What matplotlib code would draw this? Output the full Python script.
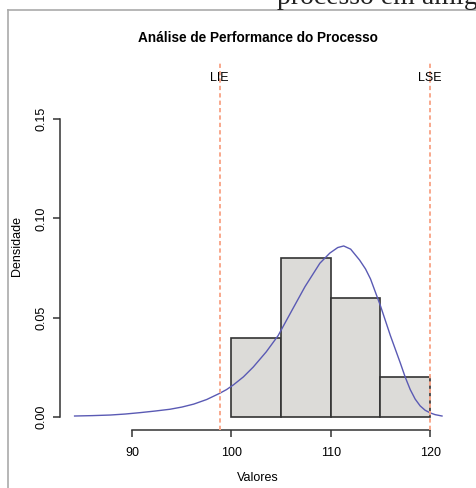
import matplotlib
matplotlib.use("Agg")
import matplotlib.pyplot as plt
from matplotlib.lines import Line2D

plt.rcParams['font.family'] = ['Liberation Sans', 'DejaVu Sans']

# histograma (densidade)
bin_left = [100, 105, 110, 115]
bin_dens = [0.04, 0.08, 0.06, 0.02]
bin_width = 5

# curva de densidade
curva_x = [84.2, 86.0, 87.8, 89.3, 90.8, 92.3, 93.8, 95.0, 96.2, 97.5, 98.8,
           99.5, 100.2, 101.2, 102.2, 103.5, 104.7, 106.1, 107.4, 108.9, 109.9,
           110.7, 111.3, 112.0, 112.9, 113.5, 114.0, 115.0, 116.0, 117.0,
           117.5, 118.0, 118.5, 119.0, 119.5, 120.0, 120.5, 121.2]
curva_y = [0.0005, 0.0007, 0.0010, 0.0015, 0.0022, 0.0030, 0.0039, 0.0050,
           0.0065, 0.0088, 0.0119, 0.0138, 0.0162, 0.0202, 0.0252, 0.0328,
           0.0410, 0.0538, 0.0656, 0.0774, 0.0825, 0.0853, 0.0861, 0.0845,
           0.0790, 0.0745, 0.0695, 0.0560, 0.0410, 0.0272, 0.0200, 0.0138,
           0.0090, 0.0056, 0.0034, 0.0021, 0.0012, 0.0005]

lie = 98.8
lse = 120.0
xticks = [90, 100, 110, 120]
yticks = [0.00, 0.05, 0.10, 0.15]

W, H = 477, 488
fig = plt.figure(figsize=(W / 100, H / 100), dpi=100)

# moldura da pagina e texto cortado no topo
fig.add_artist(Line2D([8 / W, 1], [1 - 10 / H, 1 - 10 / H], color='#aaaaaa', lw=1.2))
fig.add_artist(Line2D([8 / W, 8 / W], [0, 1 - 10 / H], color='#aaaaaa', lw=1.2))
fig.text(277 / W, 1 - 4.5 / H, 'processo em amiga', family='Liberation Serif',
         fontsize=20, ha='left', va='baseline', color='#222222')

ax = fig.add_axes([60 / W, (H - 430) / H, (457 - 60) / W, (430 - 62) / H])

ax.bar(bin_left, bin_dens, width=bin_width, align='edge', color='#dcdbd8',
       edgecolor='#333333', linewidth=1.2, zorder=2)
ax.plot(curva_x, curva_y, color='#5a5ab4', lw=1.0, zorder=3)

for v, lab in [(lie, 'LIE'), (lse, 'LSE')]:
    ax.axvline(v, color='#f8a88c', lw=1.4, linestyle=(0, (2.2, 1.6)), zorder=4)
    ax.text(v, 0.1706, lab, ha='center', va='center', fontsize=9, zorder=5)

ax.set_xlim(82.73, 122.71)
ax.set_ylim(-0.00654, 0.1787)

for s in ['top', 'right']:
    ax.spines[s].set_visible(False)
ax.spines['left'].set_bounds(0, 0.15)
ax.spines['bottom'].set_bounds(90, 120)
for s in ['left', 'bottom']:
    ax.spines[s].set_color('#333333')
    ax.spines[s].set_linewidth(1.1)

ax.set_xticks(xticks)
ax.set_xticklabels([str(t) for t in xticks])
ax.set_yticks(yticks)
ax.set_yticklabels(['%.2f' % t for t in yticks], rotation=90, va='center')
ax.tick_params(direction='out', length=5, width=1.1, color='#333333',
               labelsize=9)
ax.tick_params(axis='x', pad=7)
ax.tick_params(axis='y', pad=4)

fig.text(258 / W, 1 - 38 / H, 'Análise de Performance do Processo',
         ha='center', va='center', fontsize=9.8, fontweight='bold')
fig.text(258 / W, 1 - 478 / H, 'Valores', ha='center', va='center', fontsize=9)
fig.text(17 / W, 1 - 246 / H, 'Densidade', ha='center', va='center',
         rotation=90, fontsize=9)

fig.savefig('out.png', dpi=100)
